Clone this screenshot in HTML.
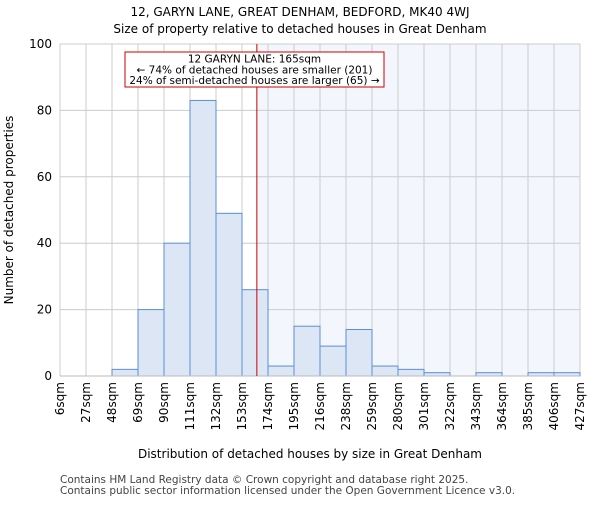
<!DOCTYPE html>
<html><head><meta charset="utf-8"><style>body{margin:0;background:#fff}svg{font-family:"DejaVu Sans","Liberation Sans",sans-serif}</style></head>
<body>
<svg id="c" width="600" height="500" xmlns="http://www.w3.org/2000/svg">
<text x="300" y="16" text-anchor="middle" font-size="12">12, GARYN LANE, GREAT DENHAM, BEDFORD, MK40 4WJ</text>
<text x="300" y="33" text-anchor="middle" font-size="12">Size of property relative to detached houses in Great Denham</text>
<g id="plot"></g>
<text x="310" y="458" text-anchor="middle" font-size="12">Distribution of detached houses by size in Great Denham</text>
<text transform="translate(13,210) rotate(-90)" text-anchor="middle" font-size="12">Number of detached properties</text>
<text x="60" y="483" font-size="10.5" fill="#444">Contains HM Land Registry data © Crown copyright and database right 2025.</text>
<text x="60" y="494" font-size="10.5" fill="#444">Contains public sector information licensed under the Open Government Licence v3.0.</text>
</svg>
<script>
const tickLabels=["6sqm","27sqm","48sqm","69sqm","90sqm","111sqm","132sqm","153sqm","174sqm","195sqm","216sqm","238sqm","259sqm","280sqm","301sqm","322sqm","343sqm","364sqm","385sqm","406sqm","427sqm"];
const counts=[0,0,2,20,40,83,49,26,3,15,9,14,3,2,1,0,1,0,1,1];
const yTicks=[0,20,40,60,80,100];
const propertySize=165;
const binEdges=[6,27,48,69,90,111,132,153,174,195,216,237,258,279,300,321,342,363,384,405,426];
const L=60,R=580,T=44,B=376;
const NS="http://www.w3.org/2000/svg";
const n=counts.length,bw=(R-L)/n;
const x=i=>L+i*bw;
const y=v=>B-(v/100)*(B-T);
const xv=s=>{let i=0;while(i<n-1&&s>=binEdges[i+1])i++;return x(i)+(s-binEdges[i])/(binEdges[i+1]-binEdges[i])*bw;};
const g=document.getElementById('plot');
function mk(t,a){const e=document.createElementNS(NS,t);for(const k in a)e.setAttribute(k,a[k]);g.appendChild(e);return e;}
const bg=mk('rect',{x:L,y:T,width:R-L,height:B-T,fill:'#fff'});

const lx=xv(propertySize);
const sh=mk('rect',{x:lx,y:T,width:R-lx,height:B-T,fill:'#f3f6fd'});

for(let i=0;i<=n;i++){const l=mk('line',{x1:x(i),x2:x(i),y1:T,y2:B,stroke:'#cccccc','stroke-width':1});}
yTicks.forEach(v=>{const l=mk('line',{x1:L,x2:R,y1:y(v),y2:y(v),stroke:'#cccccc','stroke-width':1});
const t=mk('text',{x:L-8,y:y(v)+4,'text-anchor':'end','font-size':12});t.textContent=v;});
counts.forEach((c,i)=>{if(c<=0)return;const r=mk('rect',{x:x(i),y:y(c),width:bw,height:B-y(c),fill:'#dce6f5',stroke:'#5b8fd6','stroke-width':1});});
tickLabels.forEach((s,i)=>{const t=mk('text',{transform:`translate(${x(i)+4},${B+6}) rotate(-90)`,'text-anchor':'end','font-size':12});t.textContent=s;});
const ax=mk('line',{x1:L,x2:R,y1:B,y2:B,stroke:'#bbb'});
const ln=mk('line',{x1:lx,x2:lx,y1:T,y2:B,stroke:'#cc0000','stroke-width':1});
const box=mk('rect',{x:125,y:52,width:259,height:35,fill:'#fff',stroke:'#cc0000','stroke-width':1});
["12 GARYN LANE: 165sqm","← 74% of detached houses are smaller (201)","24% of semi-detached houses are larger (65) →"].forEach((s,i)=>{const t=mk('text',{x:254.5,y:62.5+i*10.8,'text-anchor':'middle','font-size':10.5});t.textContent=s;});
</script>
</body></html>
